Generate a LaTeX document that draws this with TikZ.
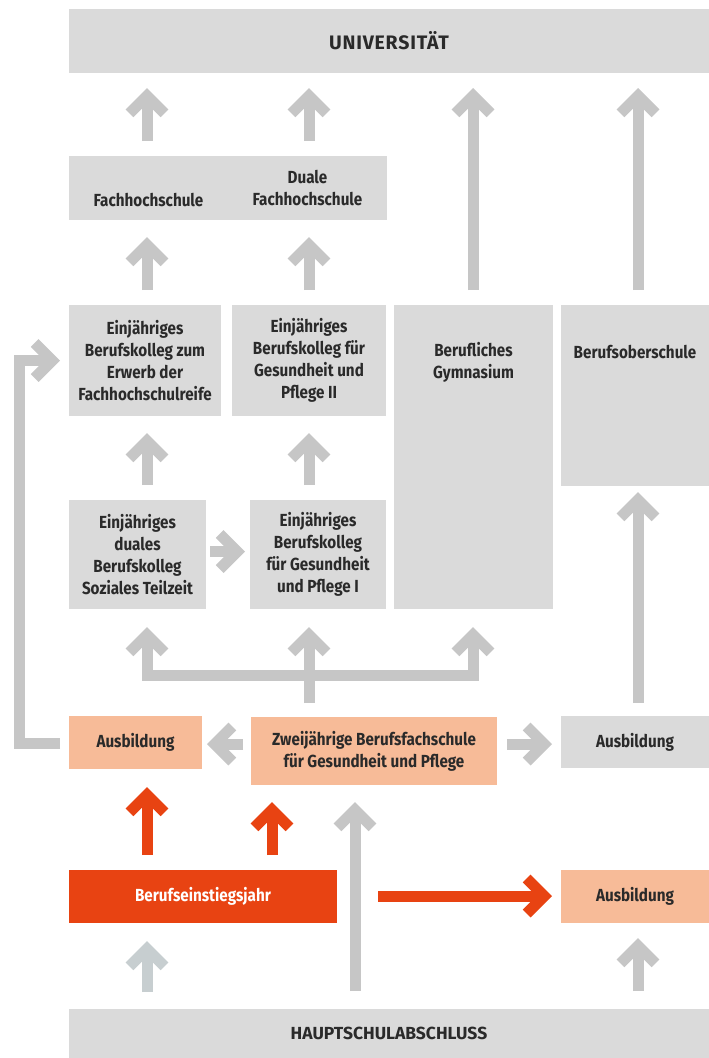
\documentclass[tikz,border=0pt]{standalone}
\usepackage{fontspec}
\setmainfont{Fira Sans}[FakeStretch=0.87]
\newfontfamily\capsfont{Fira Sans}
\usetikzlibrary{arrows.meta,calc}
\definecolor{boxgray}{HTML}{DADADA}
\definecolor{argray}{HTML}{C6C6C6}
\definecolor{peach}{HTML}{F7BB98}
\definecolor{redor}{HTML}{E84312}
\definecolor{bluegray}{HTML}{C7CED0}
\definecolor{txtc}{HTML}{2A2A2A}
\tikzset{
  box/.style={fill=boxgray, inner sep=0pt, outer sep=0pt, text=txtc, align=center,
    font=\fontsize{17.5}{22}\selectfont\bfseries},
  peachbox/.style={box, fill=peach},
  redbox/.style={box, fill=redor, text=white},
  txt/.style={inner sep=0pt, outer sep=0pt, text=txtc, align=center,
    font=\fontsize{17.5}{22}\selectfont\bfseries},
  conn/.style={draw=argray, line width=11pt, line cap=butt, line join=miter,
    -{Straight Barb[length=17.5pt,width=35pt]}},
  conn2/.style={conn, {Straight Barb[length=17.5pt,width=35pt]}-{Straight Barb[length=17.5pt,width=35pt]}},
  redconn/.style={conn, draw=redor},
  blueconn/.style={conn, draw=bluegray},
}
\begin{document}
\begin{tikzpicture}[x=1pt,y=-1pt]
\useasboundingbox (0,0) rectangle (709,1058);
% boxes
\node[box, minimum width=640, minimum height=64,
  font=\capsfont\addfontfeature{LetterSpace=4}\fontsize{19.5}{22}\selectfont\bfseries] (uni) at (389,41) {UNIVERSITÄT};
\node[box, minimum width=159, minimum height=64] (fh) at (148.5,188) {\strut\\Fachhochschule};
\node[box, minimum width=159, minimum height=64] (dfh) at (307.5,188) {Duale\\Fachhochschule};
\node[box, minimum width=152, minimum height=111] (ek1) at (145,360.5) {Einjähriges\\Berufskolleg zum\\Erwerb der\\Fachhochschulreife};
\node[box, minimum width=154, minimum height=111] (ek2) at (309,360.5) {Einjähriges\\Berufskolleg für\\Gesundheit und\\Pflege II};
\node[box, minimum width=159, minimum height=304] (bg) at (473.5,457) {};
\node[txt] (bgt) at ($(bg.north)+(0,57.5)$) {Berufliches\\Gymnasium};
\node[box, minimum width=148, minimum height=181] (bo) at (635,395.5) {};
\node[txt] (bot) at ($(bo.north)+(0,47)$) {Berufsoberschule};
\node[box, minimum width=137, minimum height=109] (ed) at (137.5,554.5) {Einjähriges\\duales\\Berufskolleg\\Soziales Teilzeit};
\node[box, minimum width=136, minimum height=109] (ep1) at (318,554.5) {Einjähriges\\Berufskolleg\\für Gesundheit\\und Pflege I};
\node[peachbox, minimum width=133, minimum height=53] (aus1) at (135.5,742.5) {Ausbildung};
\node[peachbox, minimum width=246, minimum height=68] (zw) at (374,751) {Zweijährige Berufsfachschule\\für Gesundheit und Pflege};
\node[box, minimum width=148, minimum height=52] (aus2) at (635,742) {Ausbildung};
\node[redbox, minimum width=268, minimum height=53] (bej) at (203,896.5) {Berufseinstiegsjahr};
\node[peachbox, minimum width=148, minimum height=53] (aus3) at (635,896.5) {Ausbildung};
\node[box, minimum width=640, minimum height=49,
  font=\capsfont\fontsize{17.5}{22}\selectfont\bfseries] (hs) at (389,1033.5) {HAUPTSCHULABSCHLUSS};
% connectors
\draw[conn] ($(fh.north west)+(78,-15)$) -- ($(uni.south west)+(78,15)$);
\draw[conn] ($(dfh.north west)+(81,-15)$) -- ($(uni.south west)+(240,15)$);
\draw[conn] ($(bg.north west)+(79,-15)$) -- ($(uni.south west)+(404,15)$);
\draw[conn] ($(bo.north west)+(77,-15)$) -- ($(uni.south west)+(569,15)$);
\draw[conn] ($(ek1.north west)+(78,-15)$) -- ($(fh.south west)+(78,17)$);
\draw[conn] ($(ek2.north west)+(77,-15)$) -- ($(dfh.south west)+(81,17)$);
\draw[conn] ($(ed.north west)+(78,-15)$) -- ($(ek1.south west)+(78,17)$);
\draw[conn] ($(ep1.north west)+(59,-15)$) -- ($(ek2.south west)+(77,17)$);
\draw[conn] ($(ed.east)+(4,-3)$) -- ($(ep1.west)+(-5,-3)$);
\draw[conn] ($(zw.north west)+(58,-14)$) -- ($(ep1.south west)+(59,18)$);
\draw[conn2] ($(ed.south west)+(78,18)$) -- ++(0,48) -| ($(bg.south west)+(79,18)$);
\draw[conn] ($(zw.west)+(-8,-7)$) -- ($(aus1.east)+(5,1.5)$);
\draw[conn] ($(zw.east)+(10,-7)$) -- ($(aus2.west)+(-9,2)$);
\draw[conn] ($(aus2.north west)+(77,-13)$) -- ($(bo.south west)+(77,6)$);
\draw[conn] ($(aus1.west)+(-9,0.5)$) -- ++(-41,0) |- ($(ek1.west)+(-9,0)$);
\draw[redconn] ($(bej.north west)+(78,-15)$) -- ($(aus1.south west)+(78,18)$);
\draw[redconn] ($(bej.north west)+(203,-15)$) -- ($(zw.south west)+(21,17)$);
\draw[conn] ($(hs.north west)+(286,-18)$) -- ($(zw.south west)+(104,17)$);
\draw[redconn] ($(bej.east)+(41,-0.5)$) -- ($(aus3.west)+(-9,-0.5)$);
\draw[blueconn] ($(hs.north west)+(78,-17)$) -- ($(bej.south west)+(78,18)$);
\draw[conn] ($(hs.north west)+(569,-18)$) -- ($(aus3.south west)+(77,15)$);
\end{tikzpicture}
\end{document}
